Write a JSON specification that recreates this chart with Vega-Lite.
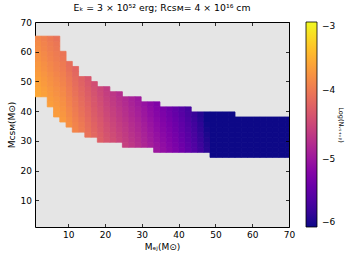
{
"$schema":"https://vega.github.io/schema/vega-lite/v6.json",
"width":254,"height":205,
"autosize":{"type":"none"},
"padding":{"left":35,"top":22,"right":68,"bottom":35},
"config":{
 "font":"DejaVu Sans",
 "view":{"fill":"#e5e5e5","stroke":"black","strokeWidth":1},
 "axis":{"labelFont":"DejaVu Sans","labelFontSize":9,"labelColor":"black","labelFlush":false,"tickColor":"black","tickSize":-3.5,"tickWidth":0.8,"domain":false,"grid":false,"titleFont":"DejaVu Sans","titleFontSize":9,"titleFontWeight":"normal","titleColor":"black"},
 "legend":{"labelFont":"DejaVu Sans","titleFont":"DejaVu Sans","titleFontWeight":"normal","labelColor":"black","titleColor":"black"}
},
"title":{"text":"Eₖ = 3 × 10⁵² erg; Rᴄꜱᴍ= 4 × 10¹⁶ cm","fontSize":9.3,"font":"DejaVu Sans","fontWeight":"normal","offset":5,"anchor":"middle","color":"black"},
"data":{"values":[
{"mej":1.65,"mcsm":45.85,"logN":-3.59},{"mej":1.65,"mcsm":47.55,"logN":-3.61},{"mej":1.65,"mcsm":49.25,"logN":-3.64},{"mej":1.65,"mcsm":50.95,"logN":-3.66},{"mej":1.65,"mcsm":52.65,"logN":-3.69},{"mej":1.65,"mcsm":54.35,"logN":-3.72},{"mej":1.65,"mcsm":56.05,"logN":-3.74},{"mej":1.65,"mcsm":57.75,"logN":-3.77},{"mej":1.65,"mcsm":59.45,"logN":-3.79},{"mej":1.65,"mcsm":61.15,"logN":-3.82},{"mej":1.65,"mcsm":62.85,"logN":-3.84},{"mej":1.65,"mcsm":64.55,"logN":-3.87},
{"mej":3.35,"mcsm":45.85,"logN":-3.65},{"mej":3.35,"mcsm":47.55,"logN":-3.67},{"mej":3.35,"mcsm":49.25,"logN":-3.70},{"mej":3.35,"mcsm":50.95,"logN":-3.72},{"mej":3.35,"mcsm":52.65,"logN":-3.75},{"mej":3.35,"mcsm":54.35,"logN":-3.78},{"mej":3.35,"mcsm":56.05,"logN":-3.80},{"mej":3.35,"mcsm":57.75,"logN":-3.83},{"mej":3.35,"mcsm":59.45,"logN":-3.85},{"mej":3.35,"mcsm":61.15,"logN":-3.88},{"mej":3.35,"mcsm":62.85,"logN":-3.90},{"mej":3.35,"mcsm":64.55,"logN":-3.93},
{"mej":5.05,"mcsm":42.45,"logN":-3.67},{"mej":5.05,"mcsm":44.15,"logN":-3.69},{"mej":5.05,"mcsm":45.85,"logN":-3.72},{"mej":5.05,"mcsm":47.55,"logN":-3.74},{"mej":5.05,"mcsm":49.25,"logN":-3.77},{"mej":5.05,"mcsm":50.95,"logN":-3.79},{"mej":5.05,"mcsm":52.65,"logN":-3.82},{"mej":5.05,"mcsm":54.35,"logN":-3.85},{"mej":5.05,"mcsm":56.05,"logN":-3.87},{"mej":5.05,"mcsm":57.75,"logN":-3.90},{"mej":5.05,"mcsm":59.45,"logN":-3.92},{"mej":5.05,"mcsm":61.15,"logN":-3.95},{"mej":5.05,"mcsm":62.85,"logN":-3.97},{"mej":5.05,"mcsm":64.55,"logN":-4.00},
{"mej":6.75,"mcsm":39.05,"logN":-3.68},{"mej":6.75,"mcsm":40.75,"logN":-3.70},{"mej":6.75,"mcsm":42.45,"logN":-3.73},{"mej":6.75,"mcsm":44.15,"logN":-3.75},{"mej":6.75,"mcsm":45.85,"logN":-3.78},{"mej":6.75,"mcsm":47.55,"logN":-3.80},{"mej":6.75,"mcsm":49.25,"logN":-3.83},{"mej":6.75,"mcsm":50.95,"logN":-3.85},{"mej":6.75,"mcsm":52.65,"logN":-3.88},{"mej":6.75,"mcsm":54.35,"logN":-3.91},{"mej":6.75,"mcsm":56.05,"logN":-3.93},{"mej":6.75,"mcsm":57.75,"logN":-3.96},{"mej":6.75,"mcsm":59.45,"logN":-3.98},{"mej":6.75,"mcsm":61.15,"logN":-4.01},{"mej":6.75,"mcsm":62.85,"logN":-4.03},{"mej":6.75,"mcsm":64.55,"logN":-4.06},
{"mej":8.45,"mcsm":37.35,"logN":-3.71},{"mej":8.45,"mcsm":39.05,"logN":-3.74},{"mej":8.45,"mcsm":40.75,"logN":-3.76},{"mej":8.45,"mcsm":42.45,"logN":-3.79},{"mej":8.45,"mcsm":44.15,"logN":-3.81},{"mej":8.45,"mcsm":45.85,"logN":-3.84},{"mej":8.45,"mcsm":47.55,"logN":-3.86},{"mej":8.45,"mcsm":49.25,"logN":-3.89},{"mej":8.45,"mcsm":50.95,"logN":-3.91},{"mej":8.45,"mcsm":52.65,"logN":-3.94},{"mej":8.45,"mcsm":54.35,"logN":-3.97},{"mej":8.45,"mcsm":56.05,"logN":-3.99},{"mej":8.45,"mcsm":57.75,"logN":-4.02},{"mej":8.45,"mcsm":59.45,"logN":-4.04},
{"mej":10.15,"mcsm":35.65,"logN":-3.79},{"mej":10.15,"mcsm":37.35,"logN":-3.82},{"mej":10.15,"mcsm":39.05,"logN":-3.85},{"mej":10.15,"mcsm":40.75,"logN":-3.87},{"mej":10.15,"mcsm":42.45,"logN":-3.90},{"mej":10.15,"mcsm":44.15,"logN":-3.92},{"mej":10.15,"mcsm":45.85,"logN":-3.95},{"mej":10.15,"mcsm":47.55,"logN":-3.97},{"mej":10.15,"mcsm":49.25,"logN":-4.00},{"mej":10.15,"mcsm":50.95,"logN":-4.02},{"mej":10.15,"mcsm":52.65,"logN":-4.05},{"mej":10.15,"mcsm":54.35,"logN":-4.08},{"mej":10.15,"mcsm":56.05,"logN":-4.10},
{"mej":11.85,"mcsm":33.95,"logN":-3.88},{"mej":11.85,"mcsm":35.65,"logN":-3.90},{"mej":11.85,"mcsm":37.35,"logN":-3.93},{"mej":11.85,"mcsm":39.05,"logN":-3.96},{"mej":11.85,"mcsm":40.75,"logN":-3.98},{"mej":11.85,"mcsm":42.45,"logN":-4.01},{"mej":11.85,"mcsm":44.15,"logN":-4.03},{"mej":11.85,"mcsm":45.85,"logN":-4.06},{"mej":11.85,"mcsm":47.55,"logN":-4.08},{"mej":11.85,"mcsm":49.25,"logN":-4.11},{"mej":11.85,"mcsm":50.95,"logN":-4.13},{"mej":11.85,"mcsm":52.65,"logN":-4.16},{"mej":11.85,"mcsm":54.35,"logN":-4.19},
{"mej":13.55,"mcsm":33.95,"logN":-3.98},{"mej":13.55,"mcsm":35.65,"logN":-4.00},{"mej":13.55,"mcsm":37.35,"logN":-4.03},{"mej":13.55,"mcsm":39.05,"logN":-4.06},{"mej":13.55,"mcsm":40.75,"logN":-4.08},{"mej":13.55,"mcsm":42.45,"logN":-4.11},{"mej":13.55,"mcsm":44.15,"logN":-4.13},{"mej":13.55,"mcsm":45.85,"logN":-4.16},{"mej":13.55,"mcsm":47.55,"logN":-4.18},{"mej":13.55,"mcsm":49.25,"logN":-4.21},{"mej":13.55,"mcsm":50.95,"logN":-4.23},
{"mej":15.25,"mcsm":32.25,"logN":-4.06},{"mej":15.25,"mcsm":33.95,"logN":-4.09},{"mej":15.25,"mcsm":35.65,"logN":-4.11},{"mej":15.25,"mcsm":37.35,"logN":-4.14},{"mej":15.25,"mcsm":39.05,"logN":-4.17},{"mej":15.25,"mcsm":40.75,"logN":-4.19},{"mej":15.25,"mcsm":42.45,"logN":-4.22},{"mej":15.25,"mcsm":44.15,"logN":-4.24},{"mej":15.25,"mcsm":45.85,"logN":-4.27},{"mej":15.25,"mcsm":47.55,"logN":-4.29},{"mej":15.25,"mcsm":49.25,"logN":-4.32},{"mej":15.25,"mcsm":50.95,"logN":-4.34},
{"mej":16.95,"mcsm":32.25,"logN":-4.17},{"mej":16.95,"mcsm":33.95,"logN":-4.20},{"mej":16.95,"mcsm":35.65,"logN":-4.22},{"mej":16.95,"mcsm":37.35,"logN":-4.25},{"mej":16.95,"mcsm":39.05,"logN":-4.28},{"mej":16.95,"mcsm":40.75,"logN":-4.30},{"mej":16.95,"mcsm":42.45,"logN":-4.33},{"mej":16.95,"mcsm":44.15,"logN":-4.35},{"mej":16.95,"mcsm":45.85,"logN":-4.38},{"mej":16.95,"mcsm":47.55,"logN":-4.40},{"mej":16.95,"mcsm":49.25,"logN":-4.43},
{"mej":18.65,"mcsm":30.55,"logN":-4.25},{"mej":18.65,"mcsm":32.25,"logN":-4.27},{"mej":18.65,"mcsm":33.95,"logN":-4.30},{"mej":18.65,"mcsm":35.65,"logN":-4.32},{"mej":18.65,"mcsm":37.35,"logN":-4.35},{"mej":18.65,"mcsm":39.05,"logN":-4.38},{"mej":18.65,"mcsm":40.75,"logN":-4.40},{"mej":18.65,"mcsm":42.45,"logN":-4.43},{"mej":18.65,"mcsm":44.15,"logN":-4.45},{"mej":18.65,"mcsm":45.85,"logN":-4.48},{"mej":18.65,"mcsm":47.55,"logN":-4.50},
{"mej":20.35,"mcsm":30.55,"logN":-4.36},{"mej":20.35,"mcsm":32.25,"logN":-4.38},{"mej":20.35,"mcsm":33.95,"logN":-4.41},{"mej":20.35,"mcsm":35.65,"logN":-4.43},{"mej":20.35,"mcsm":37.35,"logN":-4.46},{"mej":20.35,"mcsm":39.05,"logN":-4.49},{"mej":20.35,"mcsm":40.75,"logN":-4.51},{"mej":20.35,"mcsm":42.45,"logN":-4.54},{"mej":20.35,"mcsm":44.15,"logN":-4.56},{"mej":20.35,"mcsm":45.85,"logN":-4.59},{"mej":20.35,"mcsm":47.55,"logN":-4.61},
{"mej":22.05,"mcsm":30.55,"logN":-4.44},{"mej":22.05,"mcsm":32.25,"logN":-4.46},{"mej":22.05,"mcsm":33.95,"logN":-4.49},{"mej":22.05,"mcsm":35.65,"logN":-4.51},{"mej":22.05,"mcsm":37.35,"logN":-4.54},{"mej":22.05,"mcsm":39.05,"logN":-4.57},{"mej":22.05,"mcsm":40.75,"logN":-4.59},{"mej":22.05,"mcsm":42.45,"logN":-4.62},{"mej":22.05,"mcsm":44.15,"logN":-4.64},{"mej":22.05,"mcsm":45.85,"logN":-4.67},
{"mej":23.75,"mcsm":30.55,"logN":-4.53},{"mej":23.75,"mcsm":32.25,"logN":-4.55},{"mej":23.75,"mcsm":33.95,"logN":-4.58},{"mej":23.75,"mcsm":35.65,"logN":-4.60},{"mej":23.75,"mcsm":37.35,"logN":-4.63},{"mej":23.75,"mcsm":39.05,"logN":-4.66},{"mej":23.75,"mcsm":40.75,"logN":-4.68},{"mej":23.75,"mcsm":42.45,"logN":-4.71},{"mej":23.75,"mcsm":44.15,"logN":-4.73},{"mej":23.75,"mcsm":45.85,"logN":-4.76},
{"mej":25.45,"mcsm":28.85,"logN":-4.58},{"mej":25.45,"mcsm":30.55,"logN":-4.61},{"mej":25.45,"mcsm":32.25,"logN":-4.63},{"mej":25.45,"mcsm":33.95,"logN":-4.66},{"mej":25.45,"mcsm":35.65,"logN":-4.68},{"mej":25.45,"mcsm":37.35,"logN":-4.71},{"mej":25.45,"mcsm":39.05,"logN":-4.74},{"mej":25.45,"mcsm":40.75,"logN":-4.76},{"mej":25.45,"mcsm":42.45,"logN":-4.79},{"mej":25.45,"mcsm":44.15,"logN":-4.81},
{"mej":27.15,"mcsm":28.85,"logN":-4.67},{"mej":27.15,"mcsm":30.55,"logN":-4.70},{"mej":27.15,"mcsm":32.25,"logN":-4.72},{"mej":27.15,"mcsm":33.95,"logN":-4.75},{"mej":27.15,"mcsm":35.65,"logN":-4.77},{"mej":27.15,"mcsm":37.35,"logN":-4.80},{"mej":27.15,"mcsm":39.05,"logN":-4.83},{"mej":27.15,"mcsm":40.75,"logN":-4.85},{"mej":27.15,"mcsm":42.45,"logN":-4.88},{"mej":27.15,"mcsm":44.15,"logN":-4.90},
{"mej":28.85,"mcsm":28.85,"logN":-4.75},{"mej":28.85,"mcsm":30.55,"logN":-4.78},{"mej":28.85,"mcsm":32.25,"logN":-4.80},{"mej":28.85,"mcsm":33.95,"logN":-4.83},{"mej":28.85,"mcsm":35.65,"logN":-4.85},{"mej":28.85,"mcsm":37.35,"logN":-4.88},{"mej":28.85,"mcsm":39.05,"logN":-4.91},{"mej":28.85,"mcsm":40.75,"logN":-4.93},{"mej":28.85,"mcsm":42.45,"logN":-4.96},{"mej":28.85,"mcsm":44.15,"logN":-4.98},
{"mej":30.55,"mcsm":28.85,"logN":-4.84},{"mej":30.55,"mcsm":30.55,"logN":-4.87},{"mej":30.55,"mcsm":32.25,"logN":-4.89},{"mej":30.55,"mcsm":33.95,"logN":-4.92},{"mej":30.55,"mcsm":35.65,"logN":-4.94},{"mej":30.55,"mcsm":37.35,"logN":-4.97},{"mej":30.55,"mcsm":39.05,"logN":-5.00},{"mej":30.55,"mcsm":40.75,"logN":-5.02},{"mej":30.55,"mcsm":42.45,"logN":-5.05},
{"mej":32.25,"mcsm":28.85,"logN":-4.93},{"mej":32.25,"mcsm":30.55,"logN":-4.96},{"mej":32.25,"mcsm":32.25,"logN":-4.98},{"mej":32.25,"mcsm":33.95,"logN":-5.01},{"mej":32.25,"mcsm":35.65,"logN":-5.03},{"mej":32.25,"mcsm":37.35,"logN":-5.06},{"mej":32.25,"mcsm":39.05,"logN":-5.09},{"mej":32.25,"mcsm":40.75,"logN":-5.11},{"mej":32.25,"mcsm":42.45,"logN":-5.14},
{"mej":33.95,"mcsm":27.15,"logN":-5.00},{"mej":33.95,"mcsm":28.85,"logN":-5.02},{"mej":33.95,"mcsm":30.55,"logN":-5.05},{"mej":33.95,"mcsm":32.25,"logN":-5.07},{"mej":33.95,"mcsm":33.95,"logN":-5.10},{"mej":33.95,"mcsm":35.65,"logN":-5.12},{"mej":33.95,"mcsm":37.35,"logN":-5.15},{"mej":33.95,"mcsm":39.05,"logN":-5.18},{"mej":33.95,"mcsm":40.75,"logN":-5.20},{"mej":33.95,"mcsm":42.45,"logN":-5.23},
{"mej":35.65,"mcsm":27.15,"logN":-5.08},{"mej":35.65,"mcsm":28.85,"logN":-5.10},{"mej":35.65,"mcsm":30.55,"logN":-5.13},{"mej":35.65,"mcsm":32.25,"logN":-5.15},{"mej":35.65,"mcsm":33.95,"logN":-5.18},{"mej":35.65,"mcsm":35.65,"logN":-5.20},{"mej":35.65,"mcsm":37.35,"logN":-5.23},{"mej":35.65,"mcsm":39.05,"logN":-5.26},{"mej":35.65,"mcsm":40.75,"logN":-5.28},
{"mej":37.35,"mcsm":27.15,"logN":-5.17},{"mej":37.35,"mcsm":28.85,"logN":-5.19},{"mej":37.35,"mcsm":30.55,"logN":-5.22},{"mej":37.35,"mcsm":32.25,"logN":-5.24},{"mej":37.35,"mcsm":33.95,"logN":-5.27},{"mej":37.35,"mcsm":35.65,"logN":-5.29},{"mej":37.35,"mcsm":37.35,"logN":-5.32},{"mej":37.35,"mcsm":39.05,"logN":-5.35},{"mej":37.35,"mcsm":40.75,"logN":-5.37},
{"mej":39.05,"mcsm":27.15,"logN":-5.26},{"mej":39.05,"mcsm":28.85,"logN":-5.28},{"mej":39.05,"mcsm":30.55,"logN":-5.31},{"mej":39.05,"mcsm":32.25,"logN":-5.33},{"mej":39.05,"mcsm":33.95,"logN":-5.36},{"mej":39.05,"mcsm":35.65,"logN":-5.38},{"mej":39.05,"mcsm":37.35,"logN":-5.41},{"mej":39.05,"mcsm":39.05,"logN":-5.44},{"mej":39.05,"mcsm":40.75,"logN":-5.46},
{"mej":40.75,"mcsm":27.15,"logN":-5.36},{"mej":40.75,"mcsm":28.85,"logN":-5.38},{"mej":40.75,"mcsm":30.55,"logN":-5.41},{"mej":40.75,"mcsm":32.25,"logN":-5.43},{"mej":40.75,"mcsm":33.95,"logN":-5.46},{"mej":40.75,"mcsm":35.65,"logN":-5.48},{"mej":40.75,"mcsm":37.35,"logN":-5.51},{"mej":40.75,"mcsm":39.05,"logN":-5.54},{"mej":40.75,"mcsm":40.75,"logN":-5.56},
{"mej":42.45,"mcsm":27.15,"logN":-5.47},{"mej":42.45,"mcsm":28.85,"logN":-5.49},{"mej":42.45,"mcsm":30.55,"logN":-5.52},{"mej":42.45,"mcsm":32.25,"logN":-5.54},{"mej":42.45,"mcsm":33.95,"logN":-5.57},{"mej":42.45,"mcsm":35.65,"logN":-5.59},{"mej":42.45,"mcsm":37.35,"logN":-5.62},{"mej":42.45,"mcsm":39.05,"logN":-5.65},{"mej":42.45,"mcsm":40.75,"logN":-5.67},
{"mej":44.15,"mcsm":27.15,"logN":-5.58},{"mej":44.15,"mcsm":28.85,"logN":-5.60},{"mej":44.15,"mcsm":30.55,"logN":-5.63},{"mej":44.15,"mcsm":32.25,"logN":-5.65},{"mej":44.15,"mcsm":33.95,"logN":-5.68},{"mej":44.15,"mcsm":35.65,"logN":-5.70},{"mej":44.15,"mcsm":37.35,"logN":-5.73},{"mej":44.15,"mcsm":39.05,"logN":-5.76},
{"mej":45.85,"mcsm":27.15,"logN":-5.71},{"mej":45.85,"mcsm":28.85,"logN":-5.73},{"mej":45.85,"mcsm":30.55,"logN":-5.76},{"mej":45.85,"mcsm":32.25,"logN":-5.78},{"mej":45.85,"mcsm":33.95,"logN":-5.81},{"mej":45.85,"mcsm":35.65,"logN":-5.83},{"mej":45.85,"mcsm":37.35,"logN":-5.86},{"mej":45.85,"mcsm":39.05,"logN":-5.89},
{"mej":47.55,"mcsm":27.15,"logN":-5.86},{"mej":47.55,"mcsm":28.85,"logN":-5.88},{"mej":47.55,"mcsm":30.55,"logN":-5.91},{"mej":47.55,"mcsm":32.25,"logN":-5.93},{"mej":47.55,"mcsm":33.95,"logN":-5.96},{"mej":47.55,"mcsm":35.65,"logN":-5.98},{"mej":47.55,"mcsm":37.35,"logN":-6.01},{"mej":47.55,"mcsm":39.05,"logN":-6.04},
{"mej":49.25,"mcsm":25.45,"logN":-6.03},{"mej":49.25,"mcsm":27.15,"logN":-6.06},{"mej":49.25,"mcsm":28.85,"logN":-6.08},{"mej":49.25,"mcsm":30.55,"logN":-6.11},{"mej":49.25,"mcsm":32.25,"logN":-6.13},{"mej":49.25,"mcsm":33.95,"logN":-6.16},{"mej":49.25,"mcsm":35.65,"logN":-6.18},{"mej":49.25,"mcsm":37.35,"logN":-6.21},{"mej":49.25,"mcsm":39.05,"logN":-6.24},
{"mej":50.95,"mcsm":25.45,"logN":-6.18},{"mej":50.95,"mcsm":27.15,"logN":-6.21},{"mej":50.95,"mcsm":28.85,"logN":-6.23},{"mej":50.95,"mcsm":30.55,"logN":-6.26},{"mej":50.95,"mcsm":32.25,"logN":-6.28},{"mej":50.95,"mcsm":33.95,"logN":-6.31},{"mej":50.95,"mcsm":35.65,"logN":-6.33},{"mej":50.95,"mcsm":37.35,"logN":-6.36},{"mej":50.95,"mcsm":39.05,"logN":-6.39},
{"mej":52.65,"mcsm":25.45,"logN":-6.28},{"mej":52.65,"mcsm":27.15,"logN":-6.31},{"mej":52.65,"mcsm":28.85,"logN":-6.33},{"mej":52.65,"mcsm":30.55,"logN":-6.36},{"mej":52.65,"mcsm":32.25,"logN":-6.38},{"mej":52.65,"mcsm":33.95,"logN":-6.41},{"mej":52.65,"mcsm":35.65,"logN":-6.43},{"mej":52.65,"mcsm":37.35,"logN":-6.46},{"mej":52.65,"mcsm":39.05,"logN":-6.49},
{"mej":54.35,"mcsm":25.45,"logN":-6.38},{"mej":54.35,"mcsm":27.15,"logN":-6.41},{"mej":54.35,"mcsm":28.85,"logN":-6.43},{"mej":54.35,"mcsm":30.55,"logN":-6.46},{"mej":54.35,"mcsm":32.25,"logN":-6.48},{"mej":54.35,"mcsm":33.95,"logN":-6.51},{"mej":54.35,"mcsm":35.65,"logN":-6.53},{"mej":54.35,"mcsm":37.35,"logN":-6.56},{"mej":54.35,"mcsm":39.05,"logN":-6.59},
{"mej":56.05,"mcsm":25.45,"logN":-6.48},{"mej":56.05,"mcsm":27.15,"logN":-6.51},{"mej":56.05,"mcsm":28.85,"logN":-6.53},{"mej":56.05,"mcsm":30.55,"logN":-6.56},{"mej":56.05,"mcsm":32.25,"logN":-6.58},{"mej":56.05,"mcsm":33.95,"logN":-6.61},{"mej":56.05,"mcsm":35.65,"logN":-6.63},{"mej":56.05,"mcsm":37.35,"logN":-6.66},
{"mej":57.75,"mcsm":25.45,"logN":-6.58},{"mej":57.75,"mcsm":27.15,"logN":-6.61},{"mej":57.75,"mcsm":28.85,"logN":-6.63},{"mej":57.75,"mcsm":30.55,"logN":-6.66},{"mej":57.75,"mcsm":32.25,"logN":-6.68},{"mej":57.75,"mcsm":33.95,"logN":-6.71},{"mej":57.75,"mcsm":35.65,"logN":-6.73},{"mej":57.75,"mcsm":37.35,"logN":-6.76},
{"mej":59.45,"mcsm":25.45,"logN":-6.68},{"mej":59.45,"mcsm":27.15,"logN":-6.71},{"mej":59.45,"mcsm":28.85,"logN":-6.73},{"mej":59.45,"mcsm":30.55,"logN":-6.76},{"mej":59.45,"mcsm":32.25,"logN":-6.78},{"mej":59.45,"mcsm":33.95,"logN":-6.81},{"mej":59.45,"mcsm":35.65,"logN":-6.83},{"mej":59.45,"mcsm":37.35,"logN":-6.86},
{"mej":61.15,"mcsm":25.45,"logN":-6.78},{"mej":61.15,"mcsm":27.15,"logN":-6.81},{"mej":61.15,"mcsm":28.85,"logN":-6.83},{"mej":61.15,"mcsm":30.55,"logN":-6.86},{"mej":61.15,"mcsm":32.25,"logN":-6.88},{"mej":61.15,"mcsm":33.95,"logN":-6.91},{"mej":61.15,"mcsm":35.65,"logN":-6.93},{"mej":61.15,"mcsm":37.35,"logN":-6.96},
{"mej":62.85,"mcsm":25.45,"logN":-6.88},{"mej":62.85,"mcsm":27.15,"logN":-6.91},{"mej":62.85,"mcsm":28.85,"logN":-6.93},{"mej":62.85,"mcsm":30.55,"logN":-6.96},{"mej":62.85,"mcsm":32.25,"logN":-6.98},{"mej":62.85,"mcsm":33.95,"logN":-7.01},{"mej":62.85,"mcsm":35.65,"logN":-7.03},{"mej":62.85,"mcsm":37.35,"logN":-7.06},
{"mej":64.55,"mcsm":25.45,"logN":-6.98},{"mej":64.55,"mcsm":27.15,"logN":-7.01},{"mej":64.55,"mcsm":28.85,"logN":-7.03},{"mej":64.55,"mcsm":30.55,"logN":-7.06},{"mej":64.55,"mcsm":32.25,"logN":-7.08},{"mej":64.55,"mcsm":33.95,"logN":-7.11},{"mej":64.55,"mcsm":35.65,"logN":-7.13},{"mej":64.55,"mcsm":37.35,"logN":-7.16},
{"mej":66.25,"mcsm":25.45,"logN":-7.08},{"mej":66.25,"mcsm":27.15,"logN":-7.11},{"mej":66.25,"mcsm":28.85,"logN":-7.13},{"mej":66.25,"mcsm":30.55,"logN":-7.16},{"mej":66.25,"mcsm":32.25,"logN":-7.18},{"mej":66.25,"mcsm":33.95,"logN":-7.21},{"mej":66.25,"mcsm":35.65,"logN":-7.23},{"mej":66.25,"mcsm":37.35,"logN":-7.26},
{"mej":67.95,"mcsm":25.45,"logN":-7.18},{"mej":67.95,"mcsm":27.15,"logN":-7.21},{"mej":67.95,"mcsm":28.85,"logN":-7.23},{"mej":67.95,"mcsm":30.55,"logN":-7.26},{"mej":67.95,"mcsm":32.25,"logN":-7.28},{"mej":67.95,"mcsm":33.95,"logN":-7.31},{"mej":67.95,"mcsm":35.65,"logN":-7.33},{"mej":67.95,"mcsm":37.35,"logN":-7.36},
{"mej":69.65,"mcsm":25.45,"logN":-7.28},{"mej":69.65,"mcsm":27.15,"logN":-7.31},{"mej":69.65,"mcsm":28.85,"logN":-7.33},{"mej":69.65,"mcsm":30.55,"logN":-7.36},{"mej":69.65,"mcsm":32.25,"logN":-7.38},{"mej":69.65,"mcsm":33.95,"logN":-7.41},{"mej":69.65,"mcsm":35.65,"logN":-7.43},{"mej":69.65,"mcsm":37.35,"logN":-7.46}
]},
"layer":[
{"mark":{"type":"rect","clip":true,"binSpacing":0,"fillOpacity":0,"strokeWidth":0.8},
 "encoding":{
  "x":{"field":"mej","type":"quantitative","bin":{"step":1.7,"anchor":0.8,"extent":[0.8,72.2],"nice":false},
       "scale":{"domain":[1,70],"nice":false,"zero":false},
       "axis":{"title":"Mₑⱼ(M⊙)","titleAngle":0,"values":[10,20,30,40,50,60,70],"labelPadding":6.5,"titlePadding":3}},
  "y":{"field":"mcsm","type":"quantitative","bin":{"step":1.7,"anchor":0.8,"extent":[0.8,72.2],"nice":false},
       "scale":{"domain":[1,70],"nice":false,"zero":false},
       "axis":{"title":"Mᴄꜱᴍ(M⊙)","titleAngle":270,"values":[10,20,30,40,50,60,70],"labelPadding":7,"titlePadding":4}},
  "stroke":{"field":"logN","type":"quantitative",
       "scale":{"scheme":"plasma","domain":[-6.0001,-3],"clamp":true},"legend":null}
 }},
{"mark":{"type":"rect","clip":true,"binSpacing":0},
 "encoding":{
  "x":{"field":"mej","type":"quantitative","bin":{"step":1.7,"anchor":0.8,"extent":[0.8,72.2],"nice":false},
       "scale":{"domain":[1,70],"nice":false,"zero":false},"axis":null},
  "y":{"field":"mcsm","type":"quantitative","bin":{"step":1.7,"anchor":0.8,"extent":[0.8,72.2],"nice":false},
       "scale":{"domain":[1,70],"nice":false,"zero":false},"axis":null},
  "color":{"field":"logN","type":"quantitative",
       "scale":{"scheme":"plasma","domain":[-6,-3],"clamp":true},
       "legend":{"type":"gradient","title":"Log(Nᵥₛ₊ᵥᵦ)","titleOrient":"right","direction":"vertical","gradientLength":205,"gradientThickness":11,"gradientStrokeColor":"black","gradientStrokeWidth":0.8,"values":[-6,-5,-4,-3],"labelFontSize":9,"labelOffset":5,"labelBaseline":"middle","labelOverlap":false,"offset":16,"padding":0,"titleFontSize":6.5,"titlePadding":3,"titleAnchor":"middle",
                 "encoding":{"title":{"update":{"angle":{"value":-90}}}}}}
 }},
{"mark":{"type":"rect","opacity":0,"binSpacing":0},
 "encoding":{
  "x":{"field":"mej","type":"quantitative","bin":{"step":1.7,"anchor":0.8,"extent":[0.8,72.2],"nice":false},
       "scale":{"domain":[1,70],"nice":false,"zero":false},
       "axis":{"orient":"top","labels":false,"title":null,"values":[10,20,30,40,50,60,70]}},
  "y":{"field":"mcsm","type":"quantitative","bin":{"step":1.7,"anchor":0.8,"extent":[0.8,72.2],"nice":false},
       "scale":{"domain":[1,70],"nice":false,"zero":false},
       "axis":{"orient":"right","labels":false,"title":null,"values":[10,20,30,40,50,60,70]}}
 }}
],
"resolve":{"axis":{"x":"independent","y":"independent"}}
}
